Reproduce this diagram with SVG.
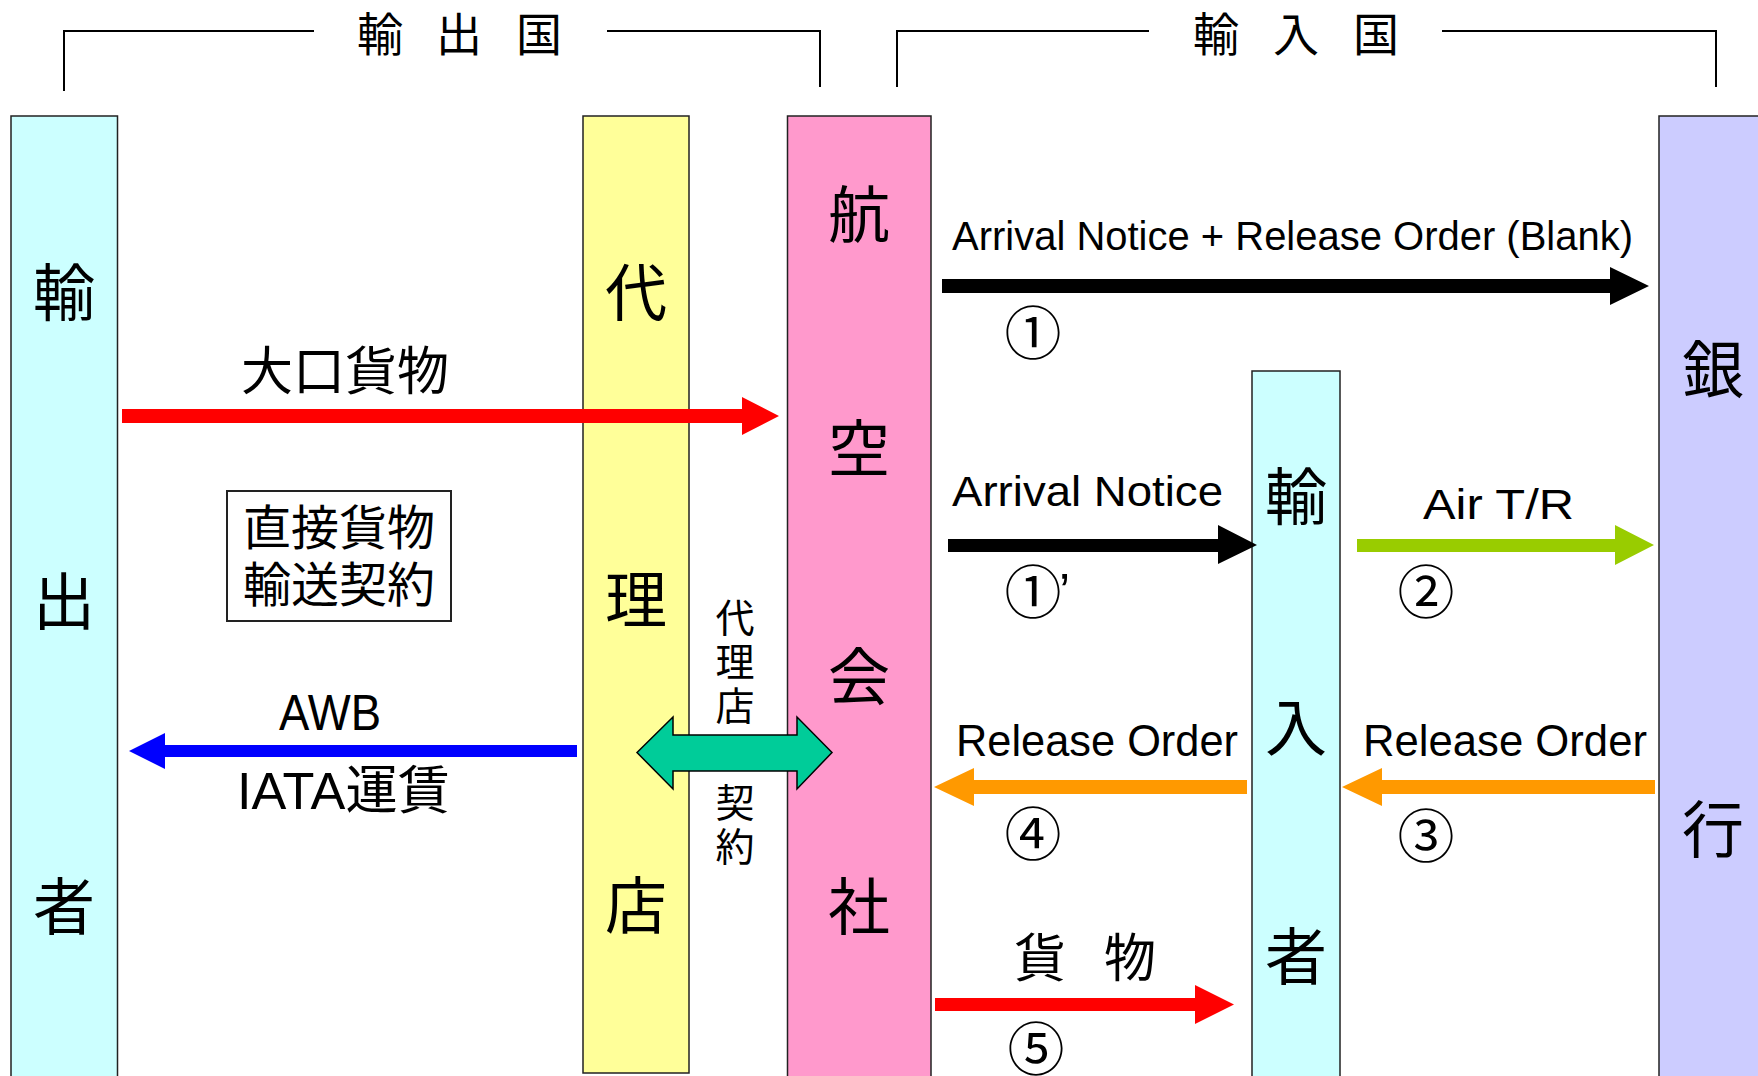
<svg xmlns="http://www.w3.org/2000/svg" width="1758" height="1076" viewBox="0 0 1758 1076">
<style>
.col{stroke:#222;stroke-width:1.5}
.jp{font-family:"Noto Sans CJK JP","Noto Sans CJK SC",sans-serif;fill:#000;text-anchor:middle}
.vt{font-family:"Noto Sans CJK JP","Noto Sans CJK SC",sans-serif;fill:#000;writing-mode:vertical-rl;font-size:39px;letter-spacing:5px}
.en{font-family:"Liberation Sans",Arial,"Noto Sans CJK JP",sans-serif;fill:#000}
.br{fill:none;stroke:#000;stroke-width:2}
.big{font-size:62px}
.num{font-family:"Noto Sans CJK JP",sans-serif;font-size:57px;text-anchor:middle;fill:#000}
</style>
<rect width="1758" height="1076" fill="#fff"/>
<g id="export-country">
<path class="br" d="M64 91V31H314M607 31H820V87"/>
<text class="jp" font-size="46" x="380 459 539" y="51">輸出国</text>
</g>
<g id="import-country">
<path class="br" d="M897 87V31H1149M1442 31H1716V87"/>
<text class="jp" font-size="46" x="1216 1296 1376" y="51">輸入国</text>
</g>
<g id="exporter">
<rect class="col" x="11" y="116" width="106.5" height="990" fill="#CCFFFF"/>
<text class="jp big" x="64" y="316">輸</text>
<text class="jp big" x="64" y="625">出</text>
<text class="jp big" x="64" y="930">者</text>
</g>
<g id="agent">
<rect class="col" x="583" y="116" width="106" height="957" fill="#FFFF99"/>
<text class="jp big" x="636" y="316">代</text>
<text class="jp big" x="636" y="623">理</text>
<text class="jp big" x="636" y="929">店</text>
</g>
<g id="airline">
<rect class="col" x="787.5" y="116" width="143.5" height="990" fill="#FF99CC"/>
<text class="jp big" x="859" y="238">航</text>
<text class="jp big" x="859" y="472">空</text>
<text class="jp big" x="859" y="700">会</text>
<text class="jp big" x="859" y="930">社</text>
</g>
<g id="importer">
<rect class="col" x="1252" y="371" width="88" height="735" fill="#CCFFFF"/>
<text class="jp big" x="1296" y="520">輸</text>
<text class="jp big" x="1296" y="751">入</text>
<text class="jp big" x="1296" y="980">者</text>
</g>
<g id="bank">
<rect class="col" x="1659" y="116" width="130" height="990" fill="#CCCCFF"/>
<text class="jp big" x="1713" y="393">銀</text>
<text class="jp big" x="1713" y="853">行</text>
</g>
<g id="contract-box">
<rect x="227" y="491" width="224" height="130" fill="#fff" stroke="#222" stroke-width="2"/>
<text class="jp" font-size="48"><tspan x="339" y="545">直接貨物</tspan><tspan x="339" y="602">輸送契約</tspan></text>
</g>
<g id="connectors">
<polygon points="122,409 742,409 742,397 779,416 742,435 742,423 122,423" fill="#FF0000"/>
<text class="jp" font-size="52" x="345" y="390">大口貨物</text>
<polygon points="577,745 165,745 165,733 129,751 165,769 165,757 577,757" fill="#0000FF"/>
<text class="en" font-size="50" x="279" y="730" textLength="102" lengthAdjust="spacingAndGlyphs">AWB</text>
<text class="en" font-size="52" x="237" y="809" textLength="213" lengthAdjust="spacingAndGlyphs">IATA運賃</text>
<polygon points="637,752.5 673,717 673,735 797,735 797,717 832,752.5 797,789 797,771 673,771 673,789" fill="#00CC99" stroke="#000" stroke-width="1.5"/>
<text class="vt" x="735" y="598">代理店</text>
<text class="vt" x="735" y="783">契約</text>
<polygon points="942,279 1610,279 1610,267 1649,286 1610,305 1610,293 942,293" fill="#000"/>
<text class="en" font-size="40" x="952" y="250" textLength="681" lengthAdjust="spacingAndGlyphs">Arrival Notice + Release Order (Blank)</text>
<text class="num" x="1033" y="354">①</text>
<polygon points="948,539 1218,539 1218,525 1257,545 1218,564 1218,552 948,552" fill="#000"/>
<text class="en" font-size="42" x="952" y="506" textLength="271" lengthAdjust="spacingAndGlyphs">Arrival Notice</text>
<text class="num" x="1033" y="613">①</text>
<text class="en" font-size="50" x="1059" y="609">’</text>
<polygon points="1357,539 1615,539 1615,525 1654,545 1615,565 1615,552 1357,552" fill="#99CC00"/>
<text class="en" font-size="43" x="1423" y="519" textLength="151" lengthAdjust="spacingAndGlyphs">Air T/R</text>
<text class="num" x="1426" y="613">②</text>
<polygon points="1655,780 1382,780 1382,768 1342,787 1382,806 1382,794 1655,794" fill="#FF9900"/>
<text class="en" font-size="44" x="1363" y="756" textLength="284" lengthAdjust="spacingAndGlyphs">Release Order</text>
<text class="num" x="1426" y="857">③</text>
<polygon points="1247,780 974,780 974,768 934,787 974,806 974,794 1247,794" fill="#FF9900"/>
<text class="en" font-size="44" x="956" y="756" textLength="282" lengthAdjust="spacingAndGlyphs">Release Order</text>
<text class="num" x="1033" y="855">④</text>
<polygon points="935,998 1195,998 1195,985 1234,1004.5 1195,1024 1195,1011 935,1011" fill="#FF0000"/>
<text class="jp" font-size="52" x="1040 1130" y="977">貨物</text>
<text class="num" x="1036" y="1070">⑤</text>
</g>
</svg>
